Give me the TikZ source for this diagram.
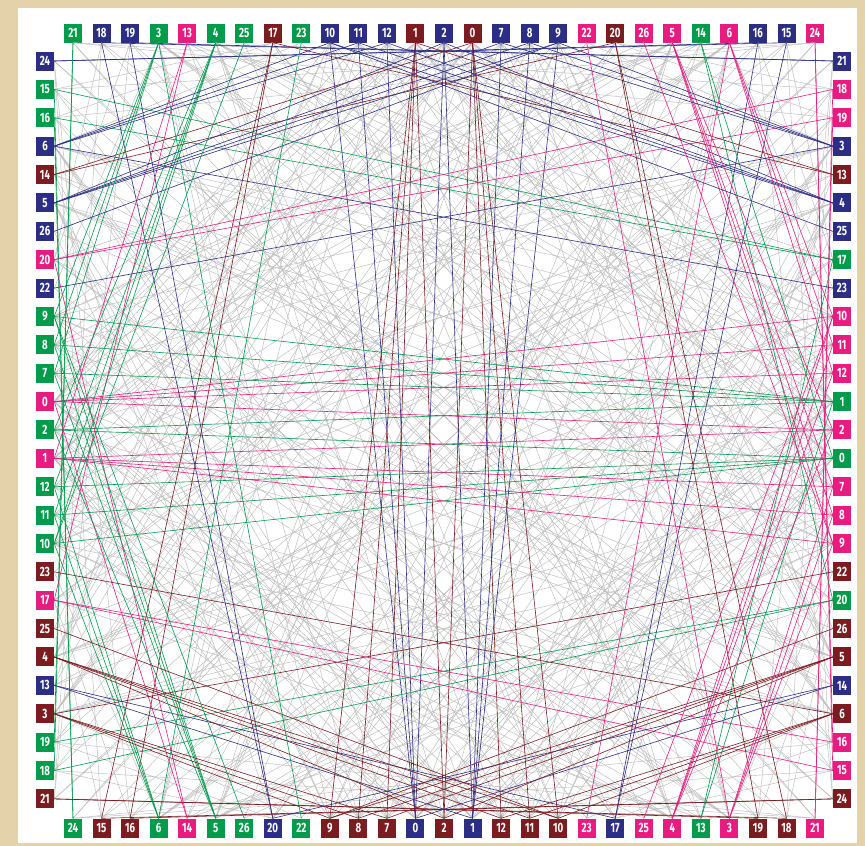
\documentclass[tikz,border=0pt]{standalone}
\usepackage{fontspec}
\setmainfont{Fira Sans}
\definecolor{cG}{RGB}{0,155,75}
\definecolor{cB}{RGB}{44,46,132}
\definecolor{cP}{RGB}{232,28,128}
\definecolor{cM}{RGB}{122,28,32}
\definecolor{cgray}{RGB}{188,188,188}
\definecolor{bgtan}{RGB}{228,211,170}
\colorlet{col0}{cG}
\colorlet{col1}{cB}
\colorlet{col2}{cP}
\colorlet{col3}{cM}
\begin{document}
\begin{tikzpicture}[x=1pt,y={(0pt,-1pt)},
  lbl/.style={minimum width=18pt,minimum height=19pt,inner sep=0pt,text=white,font=\fontsize{13.5}{13.5}\selectfont\bfseries},
  grayline/.style={draw=cgray,line width=0.45pt},
  colline/.style={line width=0.6pt}]
\useasboundingbox (0,0) rectangle (865,846);
\fill[bgtan] (0,0) rectangle (865,846);
\fill[white] (18,8) rectangle (857,843);
\def\parr{{14,12,13,3,5,21,23,15,16,17,9,10,11,4,22,25,24,7,1,2,19,0,18,8,26,6,20}}
\def\karr{{3,3,1,0,0,2,2,1,1,1,1,1,1,2,0,1,1,3,1,1,3,0,2,0,2,0,2}}
\foreach \n in {0,...,26}{
  \pgfmathtruncatemacro\p{\parr[\n]}
  \pgfmathtruncatemacro\q{26-\p}
  \pgfmathtruncatemacro\k{\karr[\n]}
  \pgfmathtruncatemacro\cT{mod(\k,4)}
  \pgfmathtruncatemacro\cR{mod(\k+1,4)}
  \pgfmathtruncatemacro\cBt{mod(\k+2,4)}
  \pgfmathtruncatemacro\cL{mod(\k+3,4)}
  \node[lbl,fill=col\cT] (n0-\n) at ({73+28.54*\p},33) {\scalebox{0.72}[1]{\n}};
  \node[lbl,fill=col\cR] (n1-\n) at (842,{61+28.38*\p}) {\scalebox{0.72}[1]{\n}};
  \node[lbl,fill=col\cBt] (n2-\n) at ({73+28.54*\q},828) {\scalebox{0.72}[1]{\n}};
  \node[lbl,fill=col\cL] (n3-\n) at (45,{61+28.38*\q}) {\scalebox{0.72}[1]{\n}};
}
\def\edges{0/10,0/11,0/12,0/2,1/2,1/7,1/8,1/9,17/15,17/16,20/18,20/19,
  24/15,24/16,21/18,21/19,13/1,13/17,14/0,14/20,
  4/10,4/11,4/12,4/2,5/7,5/8,5/9,5/2,6/10,6/11,6/12,3/7,3/8,3/9,
  26/9,25/10,22/3,23/6}
% gray pass
\foreach \u/\v in \edges{
  \pgfmathtruncatemacro\ku{\karr[\u]}
  \pgfmathtruncatemacro\kv{\karr[\v]}
  \foreach \sa in {0,1,2,3}{
    \foreach \sb in {0,1,2,3}{
      \pgfmathtruncatemacro\ca{mod(\sa+\ku,4)}
      \pgfmathtruncatemacro\cb{mod(\sb+\kv,4)}
      \edef\aa{\ifcase\sa south\or west\or north\or east\fi}
      \edef\ab{\ifcase\sb south\or west\or north\or east\fi}
      \ifnum\sa=\sb\relax\else
        \ifnum\ca=\cb\relax\else
          \draw[grayline] (n\sa-\u.\aa) -- (n\sb-\v.\ab);
        \fi
      \fi
    }
  }
}
% coloured pass
\foreach \u/\v in \edges{
  \pgfmathtruncatemacro\ku{\karr[\u]}
  \pgfmathtruncatemacro\kv{\karr[\v]}
  \foreach \sa in {0,1,2,3}{
    \foreach \sb in {0,1,2,3}{
      \pgfmathtruncatemacro\ca{mod(\sa+\ku,4)}
      \pgfmathtruncatemacro\cb{mod(\sb+\kv,4)}
      \edef\aa{\ifcase\sa south\or west\or north\or east\fi}
      \edef\ab{\ifcase\sb south\or west\or north\or east\fi}
      \ifnum\sa=\sb\relax\else
        \ifnum\ca=\cb\relax
          \draw[colline,draw=col\ca] (n\sa-\u.\aa) -- (n\sb-\v.\ab);
        \fi
      \fi
    }
  }
}
\end{tikzpicture}
\end{document}
